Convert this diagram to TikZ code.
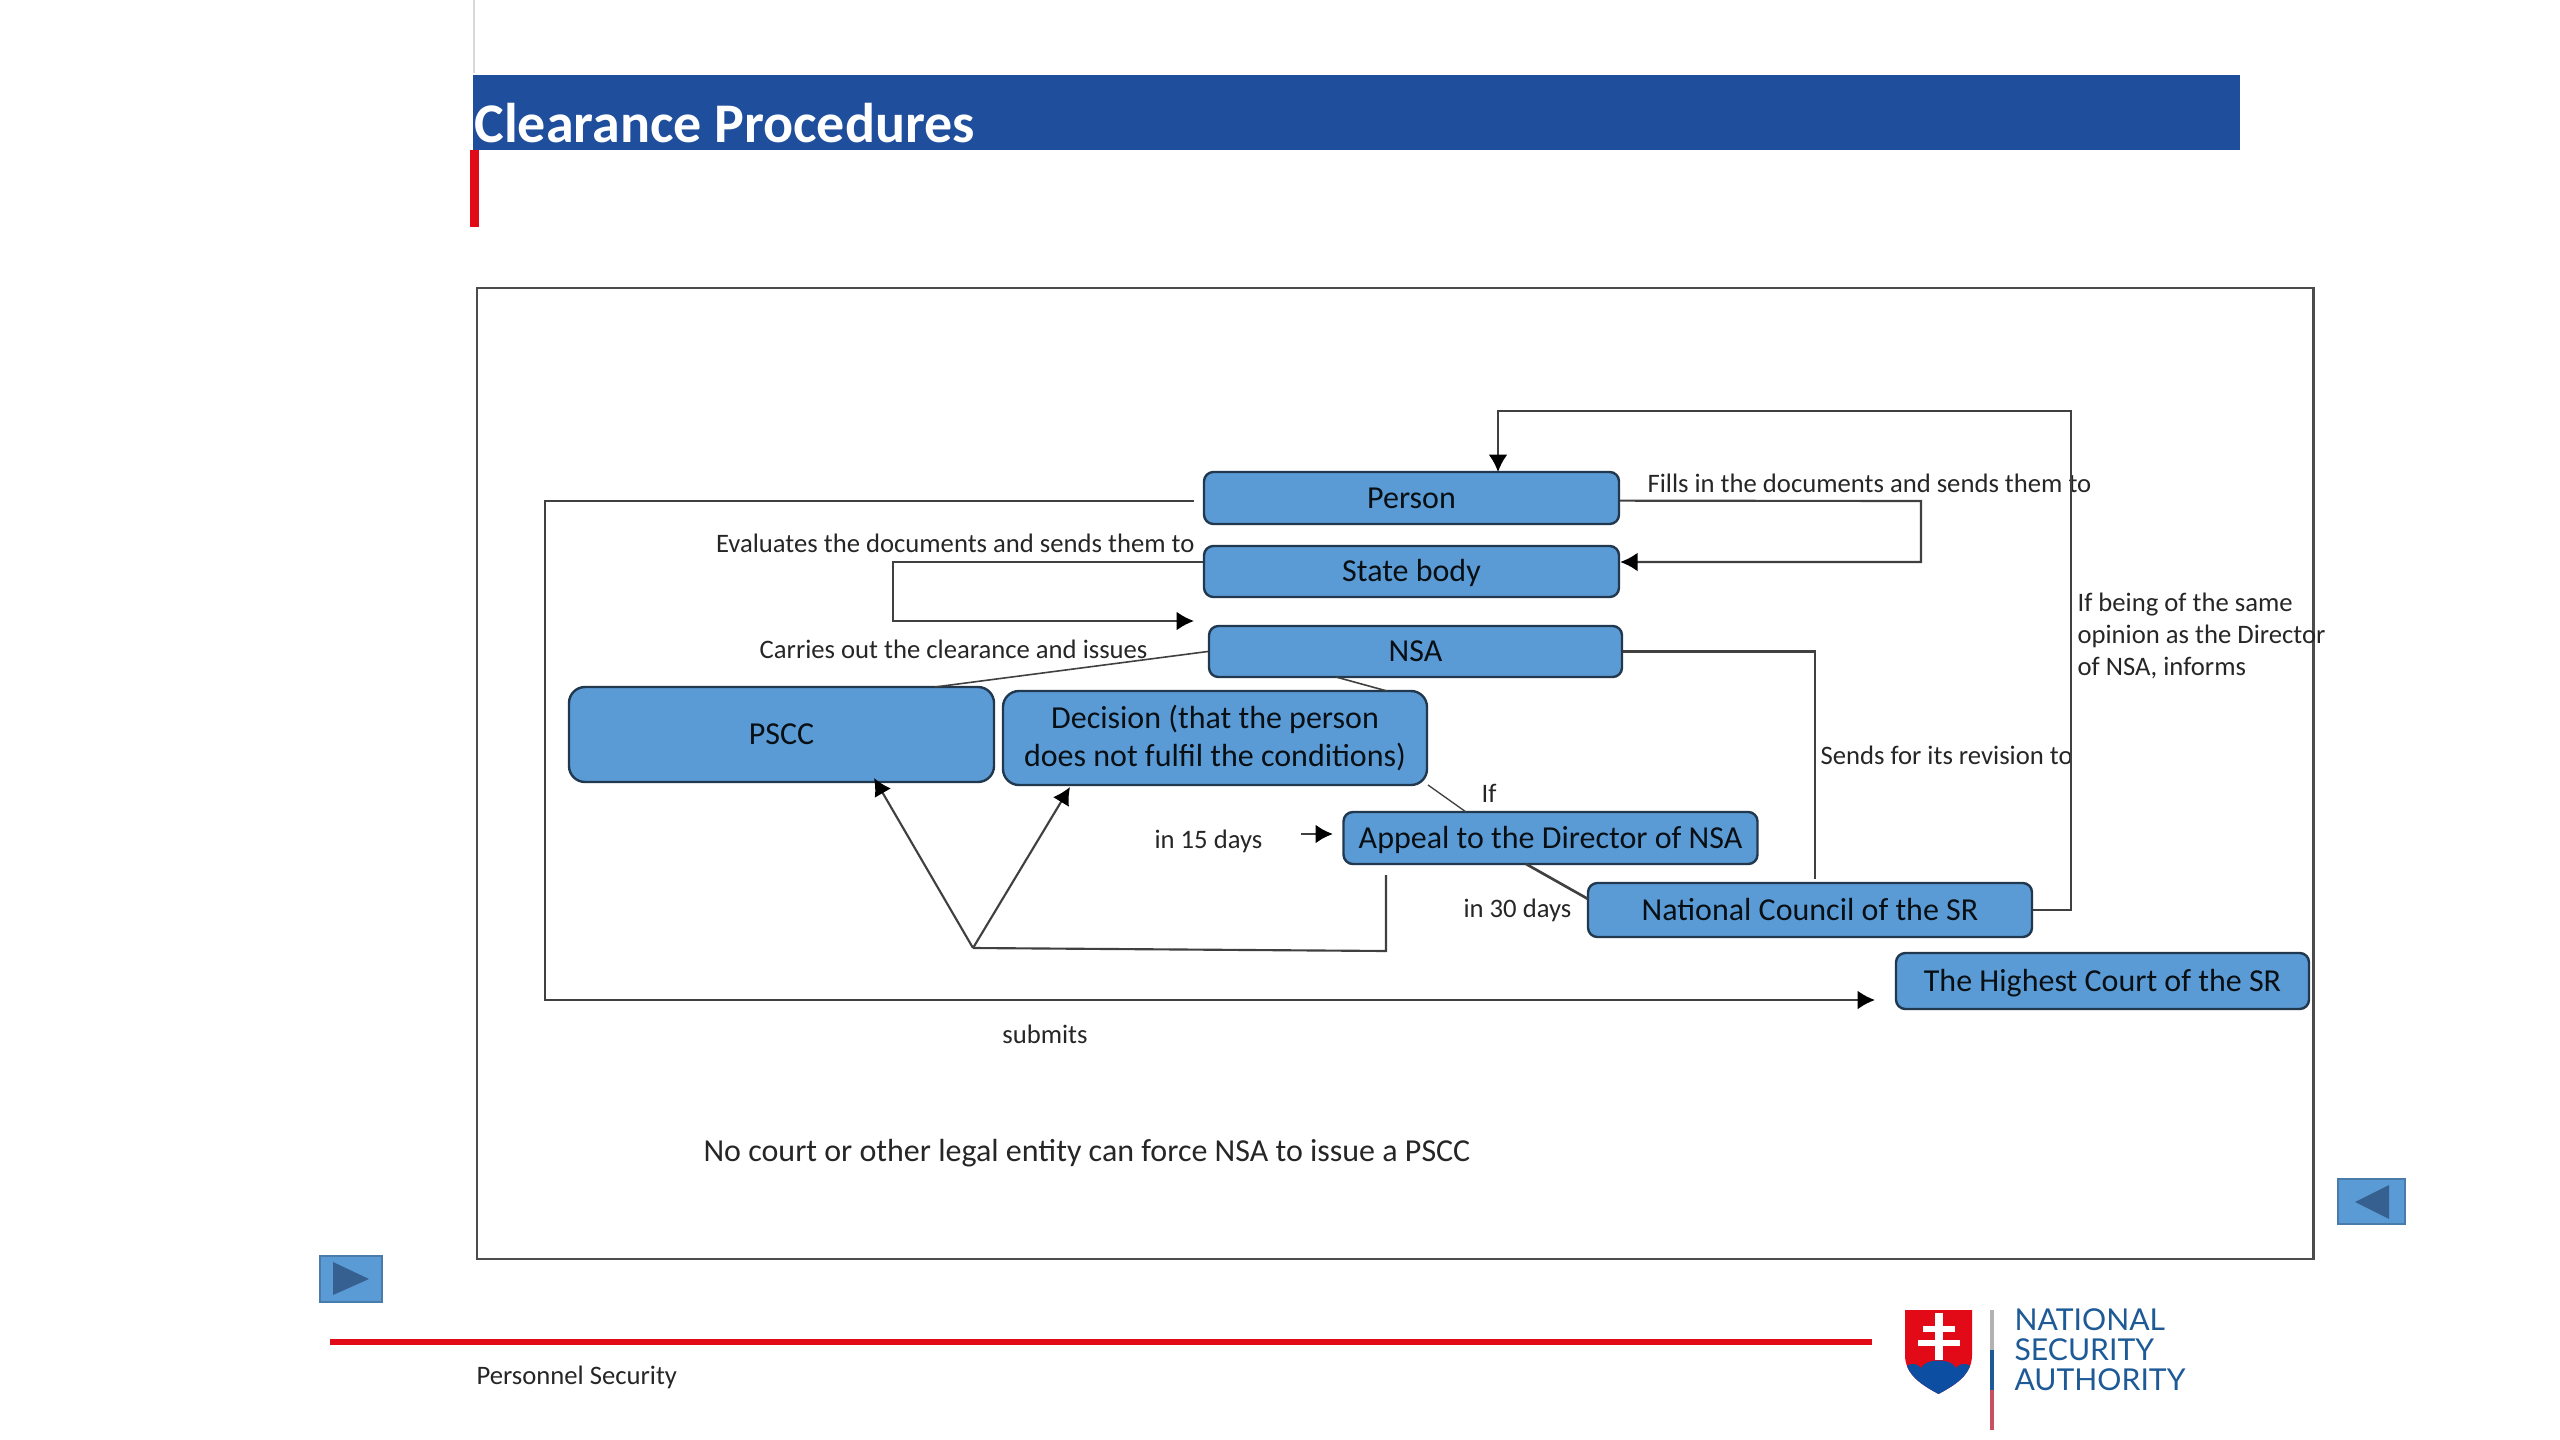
\documentclass[tikz,border=0pt]{standalone}
\usepackage{fontspec}
\setmainfont{Carlito}
\newfontfamily\logofont{Lato}
\usetikzlibrary{arrows.meta}
\definecolor{barblue}{HTML}{1F4E9C}
\definecolor{boxblue}{HTML}{5B9BD5}
\definecolor{boxline}{HTML}{22384F}
\definecolor{tipblue}{HTML}{35608F}
\definecolor{logoblue}{HTML}{1D5A96}
\definecolor{logored}{HTML}{E30A17}
\definecolor{logopink}{HTML}{C8505F}
\definecolor{shieldblue}{HTML}{0B4EA2}
\tikzset{
  block/.style 2 args={draw=boxline, line width=0.9pt, fill=boxblue, rounded corners=3.5pt,
    inner sep=0pt, align=center, font=\fontsize{12}{14}\selectfont, text=black!90!boxblue,
    minimum width=#1*0.375pt, minimum height=#2*0.375pt},
  oneline/.style={text height=7.6pt, text depth=0pt},
  bigblock/.style={rounded corners=6pt},
  lbl/.style={inner sep=0pt, font=\fontsize{10}{12}\selectfont, text=black!85, align=left},
  link/.style={draw=black!75, line width=0.8pt},
  arrow/.style={link, -{Latex[length=6.5pt,width=7pt,color=black]}},
  navbtn/.style={fill=boxblue, draw=boxblue!80!black, line width=0.6pt},
  navtip/.style={fill=tipblue}
}
\begin{document}
\begin{tikzpicture}[x=0.375pt,y=-0.375pt]
  \useasboundingbox (0,0) rectangle (2560,1440);

  \draw[black!15, line width=1pt] (474,0) -- (474,73);
  \fill[barblue] (473,75) rectangle (2240,150);
  \fill[logored] (470,150) rectangle (479,227);
  \node[anchor=west, inner sep=0pt, text=white, font=\fontsize{21}{24}\selectfont\bfseries] (title) at (474,123) {Clearance Procedures};

  \draw[black!70, line width=1.1pt] (477,288) rectangle (2313,1259);

  \node[block={415}{52}, oneline] (person) at (1411.5,498) {Person};
  \node[block={415}{51}, oneline] (state) at (1411.5,571.5) {State body};
  \node[block={413}{51}, oneline] (nsa) at (1415.5,651.5) {NSA};
  \node[block={425}{95}, oneline, bigblock] (pscc) at (781.5,734.5) {PSCC};
  \node[block={424}{94}, bigblock] (decision) at (1215,738) {Decision (that the person\\does not fulfil the conditions)};
  \node[block={414}{52}, oneline] (appeal) at (1550.5,838) {Appeal to the Director of NSA};
  \node[block={444}{54}, oneline] (council) at (1810,910) {National Council of the SR};
  \node[block={413}{56}, oneline] (court) at (2102.5,981) {The Highest Court of the SR};

  \node[lbl, anchor=west] (fills) at (1647,483) {Fills in the documents and sends them to};
  \node[lbl, anchor=east] (evaluates) at (1195,543) {Evaluates the documents and sends them to};
  \node[lbl, anchor=east] (carries) at (1148,649) {Carries out the clearance and issues};
  \node[lbl, anchor=west] (opinion) at (2077,636) {If being of the same\\opinion as the Director\\of NSA, informs};
  \node[lbl, anchor=west] (sends) at (1820,755) {Sends for its revision to};
  \node[lbl] (if) at (1489,793) {If};
  \node[lbl, anchor=west] (days15) at (1154,841) {in 15 days};
  \node[lbl, anchor=west] (days30) at (1463,910) {in 30 days};
  \node[lbl] (submits) at (1045,1034) {submits};
  \node[lbl, anchor=west, font=\fontsize{12}{14}\selectfont] (nocourt) at (703,1153) {No court or other legal entity can force NSA to issue a PSCC};

  \coordinate (personend) at (1194,501);
  \coordinate (nsaend) at (1194,621);
  \coordinate (courtend) at (1875,1000);
  \coordinate (apex) at (973,948);
  \coordinate (appealend) at (1386,875);
  \coordinate (daystart) at (1301,834);
  \coordinate (dayend) at (1333,834);

  \draw[arrow] (council.east) -| (2071,411) -- (1498,411) -- (1498,472);
  \draw[arrow] ([yshift=-1pt]person.east) -- (1921,501) -- (1921,562) -- (state.east |- 0,562);
  \draw[arrow] (state.west |- 0,562) -- (893,562) -- (893,621) -- (nsaend);
  \draw[arrow] (personend) -- (545,501) -- (545,1000) -- (courtend);
  \draw[link, line width=0.6pt] (nsa.west) -- (935,687);
  \draw[link, line width=0.6pt] (1336,677) -- (1387,691);
  \draw[link] (nsa.east) -| (1815,879);
  \draw[link, line width=0.5pt] (1428,785) -- (1466,812);
  \draw[link, line width=1pt] (1526,864) -- (1588,899);
  \draw[arrow, line width=1pt] (daystart) -- (dayend);
  \draw[link] (appealend) -- (1386,951) -- (apex);
  \draw[arrow] (apex) -- (874,778);
  \draw[arrow] (apex) -- (1070,787);

  \draw[navbtn] (2338,1179) rectangle (2405,1224);
  \fill[navtip] (2355,1202) -- (2389,1185) -- (2389,1219) -- cycle;
  \draw[navbtn] (320,1256) rectangle (382,1302);
  \fill[navtip] (369,1279) -- (333,1262) -- (333,1295) -- cycle;

  \draw[logored, line width=1.9pt] (330,1342) -- (1872,1342);
  \node[lbl, anchor=west] (footer) at (476,1377) {Personnel Security};

  \begin{scope}
    \clip (1905,1310) -- (1972,1310) -- (1972,1355) .. controls (1972,1375) and (1955,1385) .. (1938.5,1394) .. controls (1922,1385) and (1905,1375) .. (1905,1355) -- cycle;
    \fill[logored] (1900,1305) rectangle (1975,1400);
    \fill[shieldblue] (1900,1400) -- (1900,1372) .. controls (1908,1362) and (1916,1362) .. (1921,1368) .. controls (1925,1358) and (1952,1358) .. (1956,1368) .. controls (1961,1362) and (1969,1362) .. (1977,1372) -- (1977,1400) -- cycle;
  \end{scope}
  \draw[white, line width=3pt] (1939,1313) -- (1939,1360);
  \draw[white, line width=2.6pt] (1923,1329) -- (1955,1329);
  \draw[white, line width=2.6pt] (1918,1343) -- (1960,1343);
  \draw[black!30, line width=1.2pt] (1992,1310) -- (1992,1350);
  \draw[logoblue, line width=1.2pt] (1992,1350) -- (1992,1390);
  \draw[logopink, line width=1.2pt] (1992,1390) -- (1992,1430);
  \node[anchor=west, inner sep=0pt, align=left, text=logoblue, font=\logofont\fontsize{11.3}{11.25}\selectfont] (logo) at (2014,1350) {NATIONAL\\SECURITY\\AUTHORITY};
\end{tikzpicture}
\end{document}
